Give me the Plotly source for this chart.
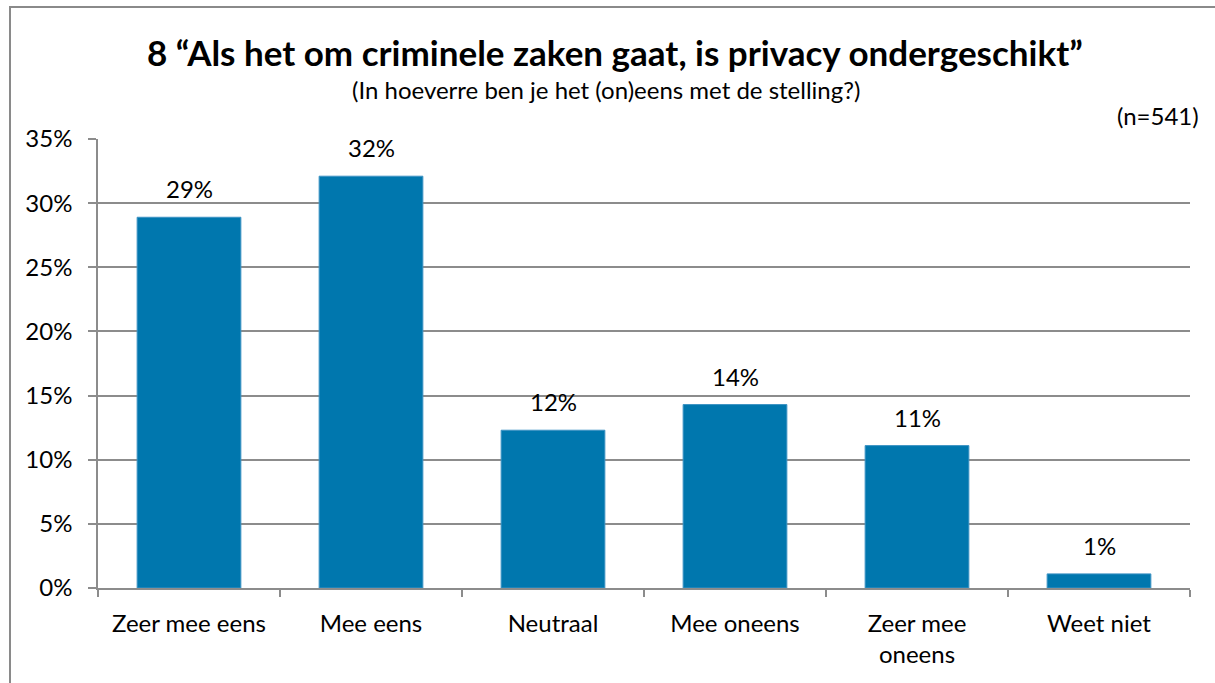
import plotly.graph_objects as go

categories = ["Zeer mee eens", "Mee eens", "Neutraal", "Mee oneens", "Zeer mee<br>oneens", "Weet niet"]
values = [28.9, 32.1, 12.3, 14.3, 11.1, 1.1]
labels = ["29%", "32%", "12%", "14%", "11%", "1%"]
y_ticks = [0, 5, 10, 15, 20, 25, 30, 35]
y_ticklabels = [f"{v}%" for v in y_ticks]

title_text = "8 \u201cAls het om criminele zaken gaat, is privacy ondergeschikt\u201d"
subtitle_text = "(In hoeverre ben je het (on)eens met de stelling?)"
n_text = "(n=541)"

W, H = 1215, 683
L, R, T, B = 98, 1190, 139, 588
FONT = "Lato"
GRID = "#8c8c8c"
BAR = "#0077AE"
FS = 24

def px_x(x):
    return (x - L) / (R - L)

def px_y(y):
    return (B - y) / (B - T)

fig = go.Figure()
fig.add_trace(go.Bar(
    x=categories, y=values, width=0.57,
    marker=dict(color=BAR, line=dict(color="#3d93c4", width=1)),
    hoverinfo="skip",
))

annotations = []
for c, v, t in zip(categories, values, labels):
    annotations.append(dict(x=c, y=v, text=t, xref="x", yref="y", showarrow=False,
                            yanchor="bottom", yshift=12,
                            font=dict(family=FONT, size=FS, color="#000")))
annotations.append(dict(x=px_x(615), y=px_y(52), xref="paper", yref="paper",
                        text="<b>" + title_text + "</b>", showarrow=False,
                        xanchor="center", yanchor="middle",
                        font=dict(family=FONT, size=35, color="#000")))
annotations.append(dict(x=px_x(606), y=px_y(90), xref="paper", yref="paper",
                        text=subtitle_text, showarrow=False,
                        xanchor="center", yanchor="middle",
                        font=dict(family=FONT, size=FS, color="#000")))
annotations.append(dict(x=px_x(1201), y=px_y(115), xref="paper", yref="paper",
                        text=n_text, showarrow=False,
                        xanchor="right", yanchor="middle",
                        font=dict(family=FONT, size=FS, color="#000")))

shapes = [dict(type="rect", xref="paper", yref="paper",
               x0=px_x(10), x1=px_x(1240), y0=px_y(7), y1=px_y(720),
               line=dict(color="#8a8a8a", width=2), layer="below")]

fig.update_layout(
    width=W, height=H,
    margin=dict(l=L, r=W - R, t=T, b=H - B, pad=0),
    paper_bgcolor="white", plot_bgcolor="white",
    showlegend=False,
    annotations=annotations,
    shapes=shapes,
    font=dict(family=FONT, size=FS, color="#000"),
    xaxis=dict(
        showline=True, linecolor=GRID, linewidth=1.5,
        ticks="outside", tickson="boundaries", ticklen=7, tickcolor=GRID, tickwidth=1.5,
        tickfont=dict(family=FONT, size=FS, color="#000"),
        ticklabelstandoff=13,
        showgrid=False, fixedrange=True,
    ),
    yaxis=dict(
        range=[0, 35], tickvals=y_ticks, ticktext=y_ticklabels,
        showline=True, linecolor=GRID, linewidth=1.5,
        ticks="outside", ticklen=8, tickcolor=GRID, tickwidth=1.5,
        showgrid=True, gridcolor=GRID, gridwidth=1.5,
        zeroline=False,
        ticklabelstandoff=11,
        tickfont=dict(family=FONT, size=FS, color="#000"),
        fixedrange=True,
    ),
)

fig.write_html("out.html")
